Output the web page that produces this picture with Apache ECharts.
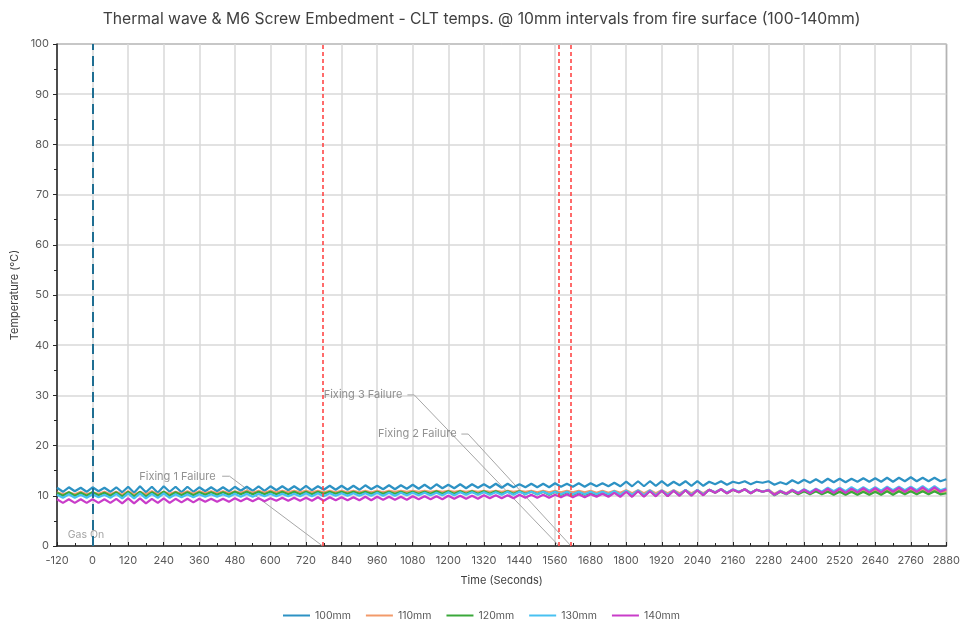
<!DOCTYPE html>
<html>
<head>
<meta charset="utf-8">
<script src="https://cdn.jsdelivr.net/npm/echarts@6/dist/echarts.min.js"></script>
<style>html,body{margin:0;padding:0;background:#fff}#c{width:963px;height:626px}</style>
</head>
<body>
<div id="c"></div>
<script>
const times = [
-120,-100,-80,-60,-40,-20,0,20,40,60,
80,100,120,140,160,180,200,220,240,260,
280,300,320,340,360,380,400,420,440,460,
480,500,520,540,560,580,600,620,640,660,
680,700,720,740,760,780,800,820,840,860,
880,900,920,940,960,980,1000,1020,1040,1060,
1080,1100,1120,1140,1160,1180,1200,1220,1240,1260,
1280,1300,1320,1340,1360,1380,1400,1420,1440,1460,
1480,1500,1520,1540,1560,1580,1600,1620,1640,1660,
1680,1700,1720,1740,1760,1780,1800,1820,1840,1860,
1880,1900,1920,1940,1960,1980,2000,2020,2040,2060,
2080,2100,2120,2140,2160,2180,2200,2220,2240,2260,
2280,2300,2320,2340,2360,2380,2400,2420,2440,2460,
2480,2500,2520,2540,2560,2580,2600,2620,2640,2660,
2680,2700,2720,2740,2760,2780,2800,2820,2840,2860,
2880];
const t100 = [
11.6,10.8,11.7,10.9,11.6,10.8,11.7,10.9,11.6,10.8,
11.7,10.7,11.8,10.6,11.9,10.7,11.8,10.6,11.9,10.8,
11.8,10.7,11.8,10.8,11.7,10.9,11.7,10.9,11.7,10.9,
11.8,11.0,11.8,11.0,11.9,11.0,11.9,11.1,11.9,11.1,
11.9,11.1,12.0,11.1,11.9,11.2,12.0,11.2,12.0,11.2,
12.0,11.2,12.1,11.3,12.0,11.3,12.1,11.3,12.1,11.4,
12.2,11.4,12.2,11.4,12.3,11.5,12.2,11.5,12.3,11.5,
12.3,11.6,12.3,11.6,12.4,11.6,12.4,11.7,12.3,11.7,
12.4,11.7,12.4,11.7,12.5,11.8,12.4,11.8,12.5,11.8,
12.5,11.9,12.5,11.9,12.6,11.9,12.8,11.9,12.9,11.9,
12.9,12.0,12.9,12.0,12.8,12.1,12.9,12.0,12.9,12.0,
12.8,12.3,12.9,12.2,12.8,12.5,12.9,12.3,12.8,12.6,
12.9,12.2,12.7,12.3,13.1,12.5,13.2,12.6,13.3,12.6,
13.4,12.7,13.4,12.7,13.4,12.8,13.5,12.8,13.5,12.8,
13.6,12.8,13.6,12.9,13.7,12.9,13.6,12.9,13.6,12.9,
13.3];
const t110 = [
10.7,10.3,10.7,10.3,10.8,10.3,10.7,10.4,10.8,10.3,
10.8,10.2,10.9,10.2,10.8,10.3,10.9,10.3,10.8,10.4,
10.8,10.4,10.9,10.4,10.9,10.5,10.9,10.5,10.9,10.5,
10.9,10.6,11.0,10.6,11.0,10.6,11.0,10.7,11.0,10.7,
11.0,10.7,11.0,10.7,11.0,10.7,11.0,10.7,11.0,10.7,
11.0,10.7,11.0,10.7,11.0,10.7,11.0,10.8,11.0,10.8,
11.0,10.8,11.0,10.8,11.0,10.8,11.0,10.8,11.0,10.8,
11.0,10.8,11.0,10.8,11.0,10.8,11.0,10.8,11.0,10.8,
11.0,10.7,11.0,10.7,11.0,10.7,11.0,10.7,11.0,10.7,
11.0,10.6,11.0,10.6,11.0,10.6,11.1,10.5,11.1,10.5,
11.1,10.5,11.1,10.5,11.1,10.5,11.1,10.5,11.1,10.5,
11.2,10.7,11.3,10.6,11.2,10.8,11.3,10.6,11.2,10.8,
11.2,10.4,11.0,10.5,11.2,10.5,11.2,10.6,11.2,10.6,
11.1,10.6,11.1,10.6,11.1,10.6,11.2,10.6,11.2,10.6,
11.2,10.7,11.2,10.7,11.2,10.7,11.2,10.7,11.2,10.7,
10.9];
const t120 = [
10.6,10.0,10.7,10.0,10.6,10.0,10.7,10.1,10.6,10.0,
10.7,9.9,10.8,9.9,10.8,9.9,10.7,10.0,10.8,10.0,
10.7,10.1,10.7,10.1,10.7,10.2,10.7,10.2,10.7,10.2,
10.8,10.3,10.8,10.3,10.8,10.3,10.8,10.3,10.8,10.3,
10.8,10.3,10.8,10.3,10.8,10.4,10.8,10.4,10.8,10.4,
10.8,10.4,10.8,10.4,10.8,10.4,10.8,10.4,10.8,10.4,
10.8,10.4,10.8,10.4,10.9,10.4,10.9,10.4,10.9,10.4,
10.9,10.4,10.9,10.4,10.9,10.4,10.9,10.4,10.9,10.4,
10.8,10.3,10.8,10.2,10.8,10.2,10.7,10.2,10.7,10.2,
10.6,10.1,10.7,10.0,10.8,10.0,10.9,9.9,11.0,9.9,
11.0,10.0,11.0,10.0,11.0,10.1,11.1,10.1,11.1,10.2,
11.2,10.6,11.3,10.5,11.2,10.7,11.3,10.5,11.2,10.8,
11.1,10.1,10.8,10.3,11.0,10.3,10.9,10.3,10.9,10.3,
10.8,10.2,10.8,10.2,10.8,10.2,10.8,10.2,10.8,10.2,
10.9,10.2,10.9,10.3,10.9,10.3,10.9,10.3,10.9,10.3,
10.5];
const t130 = [
10.2,9.6,10.3,9.6,10.2,9.6,10.3,9.7,10.2,9.6,
10.4,9.5,10.5,9.5,10.5,9.5,10.4,9.6,10.5,9.6,
10.3,9.7,10.3,9.7,10.3,9.8,10.3,9.8,10.3,9.8,
10.4,9.8,10.4,9.8,10.4,9.9,10.4,9.9,10.4,9.9,
10.4,9.9,10.5,9.9,10.5,9.9,10.5,10.0,10.5,10.0,
10.5,10.0,10.5,10.0,10.6,10.0,10.6,10.0,10.6,10.1,
10.6,10.1,10.6,10.1,10.6,10.1,10.7,10.1,10.7,10.2,
10.7,10.2,10.7,10.2,10.7,10.2,10.8,10.2,10.8,10.3,
10.8,10.3,10.8,10.3,10.8,10.3,10.8,10.3,10.8,10.3,
10.8,10.3,10.8,10.3,10.9,10.2,11.0,10.2,11.1,10.1,
11.1,10.1,11.1,10.2,11.1,10.2,11.2,10.2,11.2,10.3,
11.2,10.7,11.3,10.6,11.3,10.8,11.3,10.6,11.2,10.8,
11.2,10.2,11.0,10.4,11.2,10.6,11.3,10.7,11.4,10.8,
11.6,10.9,11.6,10.9,11.7,11.0,11.7,11.0,11.7,11.0,
11.8,11.1,11.8,11.1,11.8,11.1,11.9,11.1,11.9,11.1,
11.5];
const t140 = [
9.3,8.6,9.3,8.6,9.3,8.6,9.3,8.6,9.3,8.6,
9.4,8.5,9.5,8.5,9.5,8.5,9.4,8.6,9.5,8.6,
9.4,8.7,9.4,8.7,9.4,8.8,9.4,8.8,9.4,8.8,
9.5,8.9,9.5,8.9,9.5,8.9,9.5,9.0,9.6,9.0,
9.6,9.0,9.6,9.0,9.7,9.0,9.7,9.1,9.7,9.1,
9.7,9.1,9.8,9.1,9.8,9.2,9.8,9.2,9.8,9.2,
9.9,9.3,9.9,9.3,9.9,9.3,10.0,9.4,10.0,9.4,
10.0,9.4,10.1,9.5,10.1,9.5,10.1,9.5,10.2,9.6,
10.2,9.6,10.2,9.6,10.2,9.7,10.3,9.7,10.3,9.7,
10.3,9.8,10.4,9.8,10.6,9.8,10.8,9.8,10.9,9.8,
10.9,9.9,11.0,9.9,11.0,10.0,11.1,10.0,11.1,10.1,
11.2,10.6,11.3,10.5,11.2,10.7,11.3,10.5,11.2,10.8,
11.1,10.2,10.9,10.4,11.1,10.5,11.2,10.5,11.3,10.6,
11.4,10.6,11.4,10.6,11.4,10.7,11.5,10.7,11.5,10.7,
11.6,10.8,11.6,10.8,11.6,10.8,11.7,10.8,11.7,10.8,
11.3];
const seriesNames = ['100mm','110mm','120mm','130mm','140mm'];
const seriesValues = [t100, t110, t120, t130, t140];
const seriesColors = ['#2D92C4','#F29A6A','#3AA83A','#48C1F1','#C93CC9'];
const gasOnTime = 0;
const failureTimes = [776, 1574, 1614];
// annotations: label text, label anchor (time, temp), leader start, elbow, target
const annLabels = ['Fixing 1 Failure','Fixing 3 Failure','Fixing 2 Failure'];
const annLabelPos = [[415, 13.9],[1045, 30.1],[1228, 22.3]];
const annLeaderStart = [[437, 13.9],[1062, 30.1],[1244, 22.3]];
const annLeaderElbow = [[462, 13.9],[1085, 30.1],[1267, 22.3]];
const annTarget = [[776, 0],[1574, 0],[1614, 0]];

const font = 'Inter, "Open Sans", sans-serif';
const chart = echarts.init(document.getElementById('c'), null, {renderer:'canvas'});

const lineSeries = seriesNames.map((n,k)=>({
  name:n, type:'line', showSymbol:false, symbol:'none',
  data: times.map((t,i)=>[t, seriesValues[k][i]]),
  lineStyle:{width:2.2, color:seriesColors[k]}, itemStyle:{color:seriesColors[k]},
  z: 3, animation:false
}));

const leaderSeries = annLabels.map((l,i)=>({
  type:'line', name:'leader'+i, silent:true, symbol:'none', animation:false,
  data:[annLeaderStart[i], annLeaderElbow[i], annTarget[i]],
  lineStyle:{width:1, color:'#A6A6A6'}, z:2
}));

const refSeries = {
  type:'line', name:'ref', data:[], silent:true, animation:false,
  markLine:{
    symbol:['none','none'], silent:true, label:{show:false}, animation:false,
    data:[
      {xAxis:gasOnTime, lineStyle:{color:'#1F6E92', width:2, type:[10,6]}},
      ...failureTimes.map(t=>({xAxis:t, lineStyle:{color:'#FF3B3B', width:1.5, type:[4,3]}}))
    ]
  },
  z:1
};

const textSeries = {
  type:'scatter', name:'texts', silent:true, symbolSize:0, animation:false,
  data: annLabels.map((l,i)=>({value:annLabelPos[i], label:{show:true, formatter:l, position:'left', distance:0,
     color:'#767676', fontSize:11, fontFamily:font}}))
    .concat([{value:[-84, 2.2], label:{show:true, formatter:'Gas On', position:'right', distance:0, color:'#8C8C8C', fontSize:10.5, fontFamily:font}}]),
  z:4
};

chart.setOption({
  backgroundColor:'#fff',
  animation:false,
  title:{text:'Thermal wave & M6 Screw Embedment - CLT temps. @ 10mm intervals from fire surface (100-140mm)',
    left:'center', top:6, textStyle:{fontSize:15.7, fontWeight:'normal', color:'#404040', fontFamily:font}},
  grid:{left:57, right:15, top:44, bottom:80, show:true, borderColor:'#262626', borderWidth:1},
  legend:{data:seriesNames, bottom:0, left:'center', itemWidth:27, itemHeight:2, itemGap:15, icon:'rect',
    textStyle:{fontSize:10.5, color:'#595959', fontFamily:font}},
  xAxis:{type:'value', min:-120, max:2880, interval:120, name:'Time (Seconds)', nameLocation:'middle', nameGap:29,
    nameTextStyle:{fontSize:11, color:'#404040', fontFamily:font},
    axisLine:{show:true, onZero:false, lineStyle:{color:'#262626', width:1.5}},
    axisTick:{show:true, inside:true, length:4, lineStyle:{color:'#262626'}},
    minorTick:{show:true, splitNumber:2, length:3, lineStyle:{color:'#262626'}},
    axisLabel:{fontSize:11, color:'#595959', margin:9, fontFamily:font, formatter:v=>String(v)},
    splitLine:{show:true, lineStyle:{color:'#D9D9D9', width:1.5}}},
  yAxis:{type:'value', min:0, max:100, interval:10, name:'Temperature (ºC)', nameLocation:'middle', nameGap:37,
    nameTextStyle:{fontSize:11, color:'#404040', fontFamily:font},
    axisLine:{show:true, onZero:false, lineStyle:{color:'#262626', width:1.5}},
    axisTick:{show:true, inside:false, length:4, lineStyle:{color:'#262626'}},
    minorTick:{show:true, splitNumber:2, length:3, lineStyle:{color:'#262626'}},
    axisLabel:{fontSize:11, color:'#595959', margin:8, fontFamily:font, formatter:v=>String(v)},
    splitLine:{show:true, lineStyle:{color:'#D9D9D9', width:1.5}}},
  series:[refSeries, ...leaderSeries, ...lineSeries, textSeries]
});
</script>
</body>
</html>
